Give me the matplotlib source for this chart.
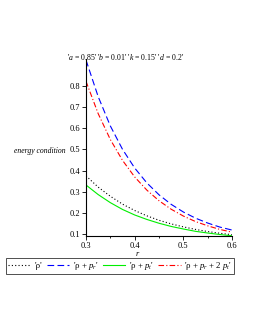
import matplotlib
matplotlib.use("Agg")
import matplotlib.pyplot as plt
from matplotlib.ticker import MultipleLocator

plt.rcParams['font.family'] = ['Liberation Serif', 'DejaVu Serif']
plt.rcParams['mathtext.fontset'] = 'custom'
plt.rcParams['mathtext.rm'] = 'Liberation Serif'
plt.rcParams['mathtext.it'] = 'Liberation Serif:italic'

r = [0.3, 0.325, 0.35, 0.375, 0.4, 0.425, 0.45, 0.475, 0.5, 0.525, 0.55, 0.575, 0.6]
rho = [0.375, 0.322, 0.279, 0.242, 0.212, 0.187, 0.166, 0.149, 0.135, 0.123, 0.113, 0.105, 0.098]
rho_pr = [0.92, 0.748, 0.610, 0.500, 0.412, 0.342, 0.286, 0.241, 0.205, 0.176, 0.153, 0.134, 0.12]
rho_pt = [0.332, 0.287, 0.249, 0.217, 0.191, 0.170, 0.152, 0.137, 0.125, 0.114, 0.106, 0.099, 0.093]
rho_pr_2pt = [0.82, 0.668, 0.546, 0.448, 0.370, 0.308, 0.258, 0.218, 0.186, 0.160, 0.140, 0.123, 0.11]

labels = ["'ρ'", "'ρ + $p_r$'", "'ρ + $p_t$'", "'ρ + $p_r$ + 2 $p_t$'"]
title = "'$a$ = 0.85' '$b$ = 0.01' '$k$ = 0.15' '$d$ = 0.2'"

fig = plt.figure(figsize=(2.55, 3.3), dpi=100)
ax = fig.add_axes([86/255, 1-236/330, (232-86)/255, (236-59)/330])

ax.plot(r, rho, color='black', linestyle=(0, (1, 2)), lw=0.8, label=labels[0])
ax.plot(r, rho_pr, color='blue', linestyle=(0, (6, 3)), lw=0.8, label=labels[1])
ax.plot(r, rho_pt, color='#00ee00', linestyle='-', lw=0.8, label=labels[2])
ax.plot(r, rho_pr_2pt, color='red', linestyle=(0, (5, 2, 1, 2)), lw=0.8, label=labels[3])

ax.set_xlim(0.3, 0.6)
ax.set_ylim(0.092, 0.925)
for s in ['top', 'right']:
    ax.spines[s].set_visible(False)
for s in ['left', 'bottom']:
    ax.spines[s].set_linewidth(0.8)
ax.xaxis.set_minor_locator(MultipleLocator(0.05))
ax.tick_params(axis='both', labelsize=6, length=3, width=0.6, pad=1)
ax.tick_params(axis='x', which='minor', length=1.5, width=0.6)
ax.set_xticks([0.3, 0.4, 0.5, 0.6])
ax.set_xticklabels(['0.3', '0.4', '0.5', '0.6'])
ax.set_yticks([0.1, 0.2, 0.3, 0.4, 0.5, 0.6, 0.7, 0.8])
ax.set_yticklabels(['0.1', '0.2', '0.3', '0.4', '0.5', '0.6', '0.7', '0.8'])

fig.text(126/255, 1-57/330, title, ha='center', va='center', fontsize=5.6)
fig.text(40/255, 1-151/330, 'energy condition', ha='center', va='center', fontsize=5.5, style='italic')
fig.text(137/255, 1-254/330, 'r', ha='center', va='center', fontsize=6, style='italic')

leg = fig.legend(loc='center', bbox_to_anchor=(120/255, 1-266/330), ncol=4, fontsize=6.3,
                 frameon=True, fancybox=False, edgecolor='black', handlelength=2.6,
                 handletextpad=0.4, columnspacing=0.5, borderpad=0.25, borderaxespad=0)
leg.get_frame().set_linewidth(0.6)

fig.savefig('out.png', dpi=100)
